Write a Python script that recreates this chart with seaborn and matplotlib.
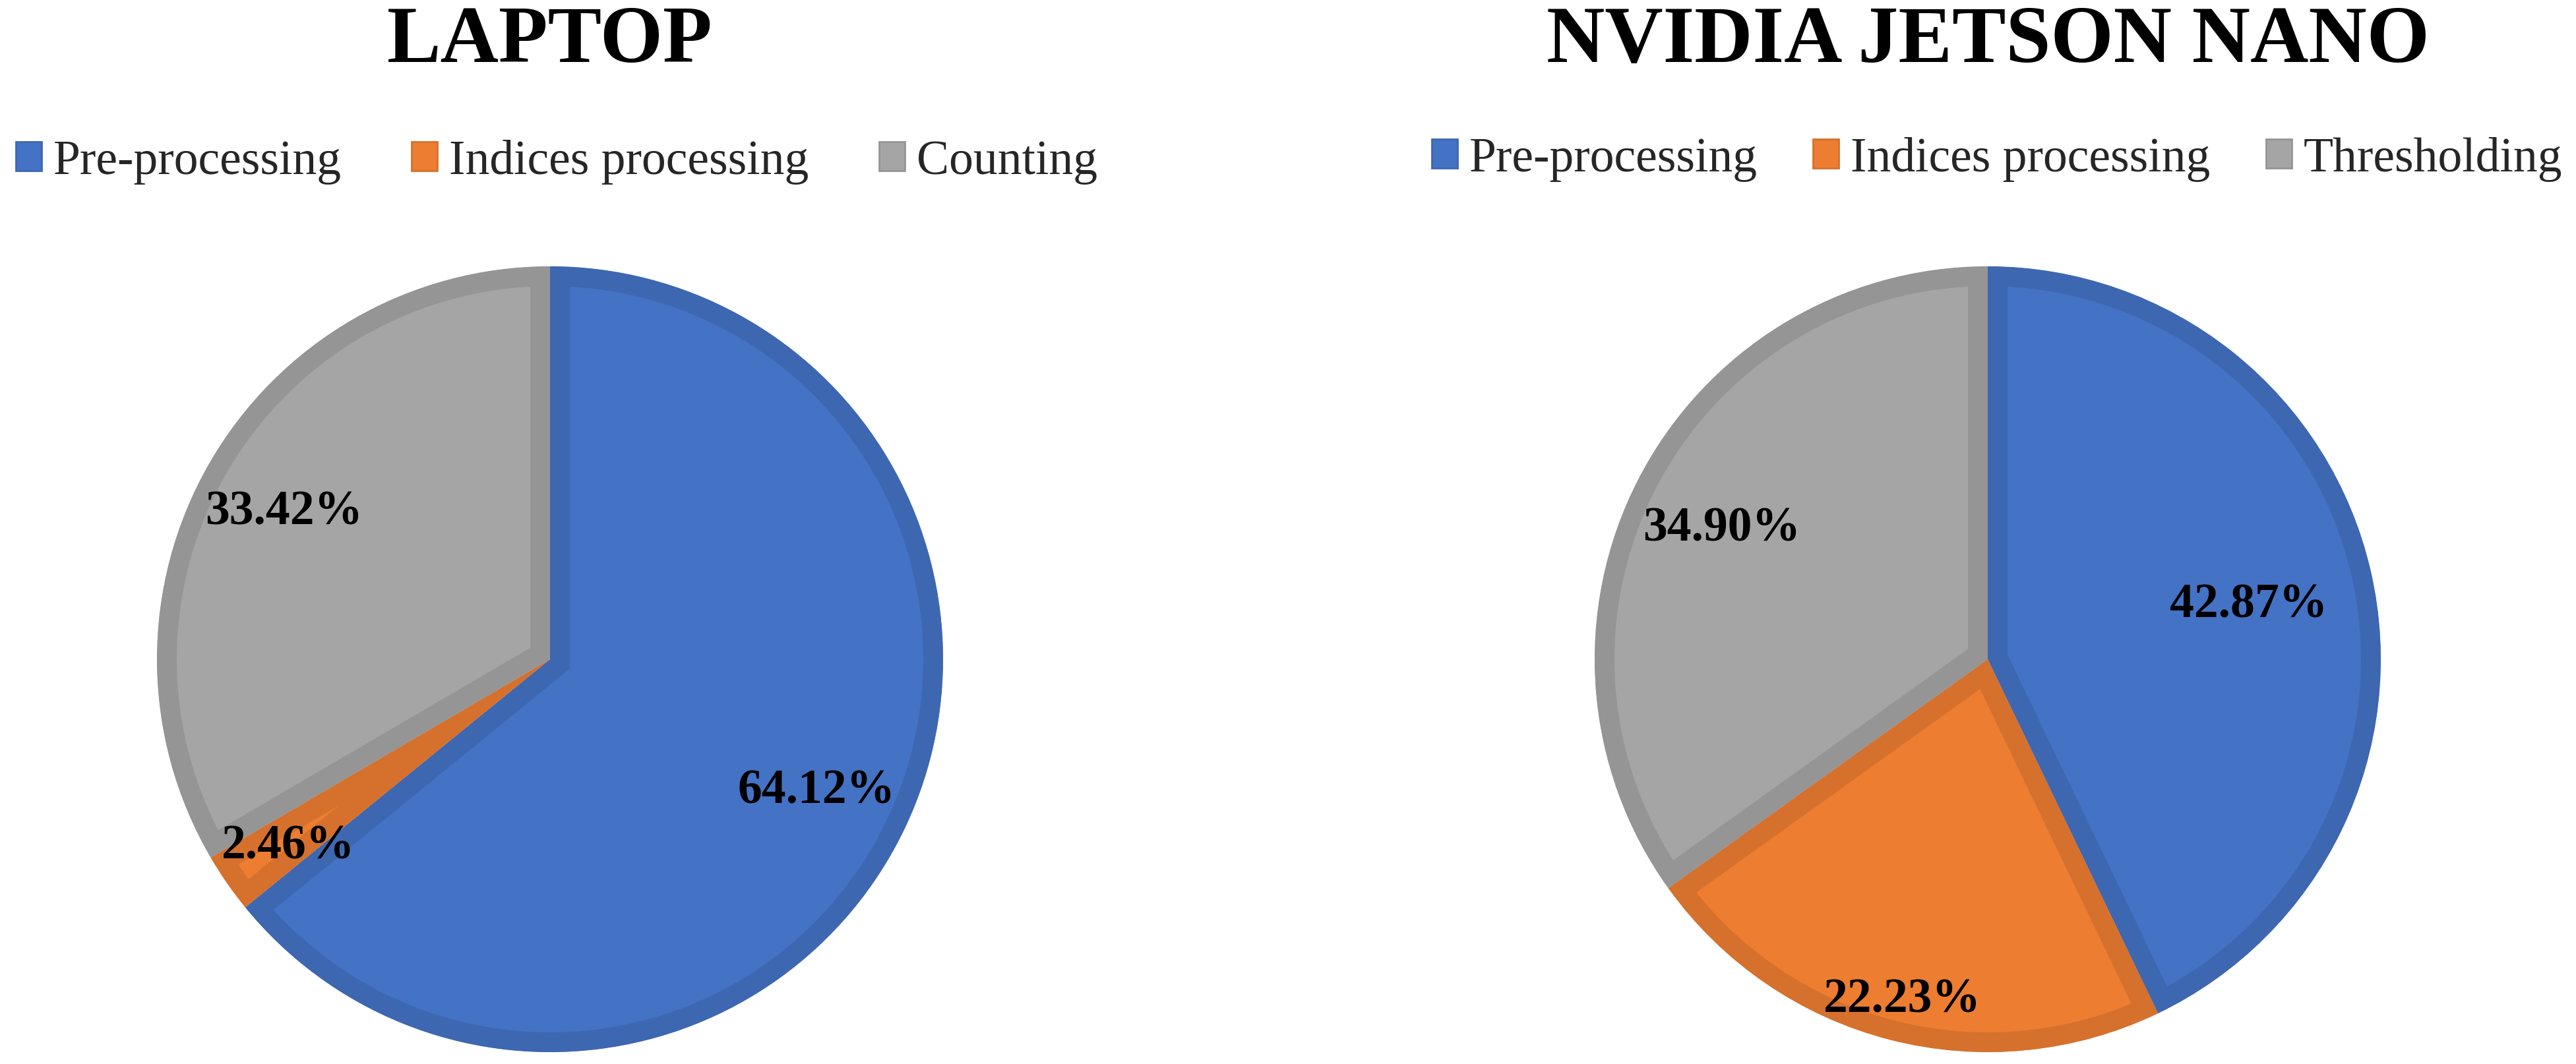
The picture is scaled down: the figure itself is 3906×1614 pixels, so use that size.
import numpy as np
import matplotlib
matplotlib.use("Agg")
import matplotlib.pyplot as plt
import seaborn as sns
from matplotlib.patches import Patch

# ---------------- data ----------------
titles = ["LAPTOP", "NVIDIA JETSON NANO"]
laptop_labels = ["Pre-processing", "Indices processing", "Counting"]
laptop_values = [64.12, 2.46, 33.42]
jetson_labels = ["Pre-processing", "Indices processing", "Thresholding"]
jetson_values = [42.87, 22.23, 34.90]

# ---------------- style ----------------
fill_colors = ["#4472C4", "#ED7D31", "#A5A5A5"]
edge_colors = ["#3D67B1", "#D5712D", "#959595"]

sns.set_theme(style="white")
plt.rcParams['font.family'] = ['Liberation Serif', 'DejaVu Serif']

W, H = 3906, 1615
DPI = 100
fig = plt.figure(figsize=(W / DPI, H / DPI), dpi=DPI)
fig.patch.set_facecolor("white")

R = 596                       # pie radius in pixels
centers = [(834, 1001), (3014, 1001)]
label_r = [[0.75, 0.81, 0.78], [0.68, 0.88, 0.76]]
legend_x = [24, 2171]
legend_y = [246, 242]
colspacing = [1.45, 1.15]
border_px = 30
lw_pt = 2 * border_px * 72 / DPI

datasets = [(laptop_labels, laptop_values), (jetson_labels, jetson_values)]
palette = sns.color_palette(fill_colors)

for i, (title, (labels, values)) in enumerate(zip(titles, datasets)):
    cx, cy = centers[i]
    ax = fig.add_axes([(cx - R) / W, (H - cy - R) / H, 2 * R / W, 2 * R / H])
    wedges, texts, autotexts = ax.pie(
        values, colors=palette, startangle=90, counterclock=False,
        autopct=lambda p: f"{p:.2f}%",
        wedgeprops=dict(linewidth=lw_pt),
        textprops=dict(fontsize=53, fontweight="bold", color="black"),
    )
    for w, ec in zip(wedges, edge_colors):
        w.set_edgecolor(ec)
        w.set_joinstyle("miter")
        w.set_clip_on(True)
        w.set_clip_path(w)
    for t, w, rd in zip(autotexts, wedges, label_r[i]):
        mid = np.deg2rad((w.theta1 + w.theta2) / 2)
        t.set_position((rd * np.cos(mid), rd * np.sin(mid)))
        t.set_ha("center")
        t.set_va("center_baseline")
        t.set_zorder(10)
    ax.set_xlim(-1, 1)
    ax.set_ylim(-1, 1)
    ax.set_aspect("equal")
    ax.axis("off")

    fig.text(cx / W, 1 - 94 / H, title, ha="center", va="baseline",
             fontsize=88, fontweight="bold", color="black")

    handles = [Patch(facecolor=fc, edgecolor=ec, linewidth=2)
               for fc, ec in zip(fill_colors, edge_colors)]
    fig.legend(handles, labels, loc="center left",
               bbox_to_anchor=(legend_x[i] / W, 1 - legend_y[i] / H),
               ncol=3, frameon=False, fontsize=53,
               handlelength=0.53, handleheight=0.53, handletextpad=0.24,
               columnspacing=colspacing[i], borderpad=0, borderaxespad=0)

fig.savefig("out.png", dpi=DPI, facecolor="white")
